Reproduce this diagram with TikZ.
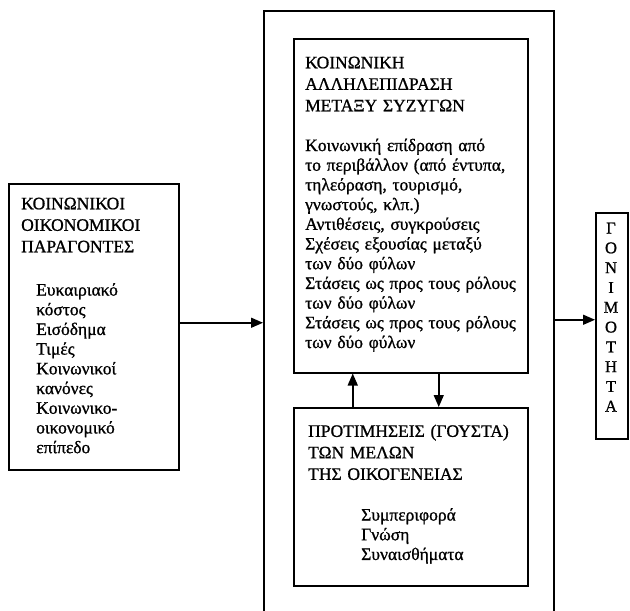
\documentclass[tikz,border=0pt]{standalone}
\usepackage{fontspec}
\setmainfont{Liberation Serif}[FakeBold=1.0, WordSpace=1.3]
\usetikzlibrary{arrows.meta}
\begin{document}
\begin{tikzpicture}[x=1pt,y=-1pt,
  box/.style={draw, line width=1.5pt, inner sep=0pt, anchor=north west},
  hdr/.style={anchor=north west, align=left, inner sep=0pt, font=\fontsize{17.5}{21.5}\selectfont},
  txt/.style={anchor=north west, align=left, inner sep=0pt, font=\fontsize{17.5}{19.7}\selectfont},
  arr/.style={line width=1.5pt, -{Triangle[length=12pt,width=10pt]}}
]
\useasboundingbox (0,0) rectangle (630,611);
% boxes
\node[box, minimum width=170pt, minimum height=286pt] (lbox) at (8,183) {};
\node[box, minimum width=290pt, minimum height=660pt] (outer) at (263,10) {};
\node[box, minimum width=234pt, minimum height=334pt] (upper) at (293,38) {};
\node[box, minimum width=234pt, minimum height=178pt] (lower) at (293,407) {};
\node[box, minimum width=32pt, minimum height=226pt] (rbox) at (595,212) {};
% texts
\node[hdr] (lhead) at (21,197.5) {ΚΟΙΝΩΝΙΚΟΙ\\ΟΙΚΟΝΟΜΙΚΟΙ\\ΠΑΡΑΓΟΝΤΕΣ};
\node[txt] (lbody) at (36,283) {Ευκαιριακό\\κόστος\\Εισόδημα\\Τιμές\\Κοινωνικοί\\κανόνες\\Κοινωνικο-\\οικονομικό\\επίπεδο};
\node[hdr] (uhead) at (305,56.5) {ΚΟΙΝΩΝΙΚΗ\\ΑΛΛΗΛΕΠΙΔΡΑΣΗ\\ΜΕΤΑΞΥ ΣΥΖΥΓΩΝ};
\node[txt] (ubody) at (305,138.5) {Κοινωνική επίδραση από\\το περιβάλλον (από έντυπα,\\τηλεόραση, τουρισμό,\\γνωστούς, κλπ.)\\Αντιθέσεις, συγκρούσεις\\Σχέσεις εξουσίας μεταξύ\\των δύο φύλων\\Στάσεις ως προς τους ρόλους\\των δύο φύλων\\Στάσεις ως προς τους ρόλους\\των δύο φύλων};
\node[hdr] (dhead) at (308,424.5) {ΠΡΟΤΙΜΗΣΕΙΣ (ΓΟΥΣΤΑ)\\ΤΩΝ ΜΕΛΩΝ\\ΤΗΣ ΟΙΚΟΓΕΝΕΙΑΣ};
\node[txt] (dbody) at (361,508) {Συμπεριφορά\\Γνώση\\Συναισθήματα};
\node[anchor=north, align=center, inner sep=0pt, font=\fontsize{16.5}{19.8}\selectfont] (rtext) at (611,222.5) {Γ\\Ο\\Ν\\Ι\\Μ\\Ο\\Τ\\Η\\Τ\\Α};
% connectors
\draw[arr] ([yshift=4pt]lbox.east) -- ([yshift=4pt]lbox.east -| outer.west);
\draw[arr] ([yshift=6pt]rbox.west -| outer.east) -- ([yshift=6pt]rbox.west);
\draw[arr] ([xshift=-58pt]lower.north) -- ([xshift=-58pt]upper.south);
\draw[arr] ([xshift=28pt]upper.south) -- ([xshift=28pt]lower.north);
\end{tikzpicture}
\end{document}
